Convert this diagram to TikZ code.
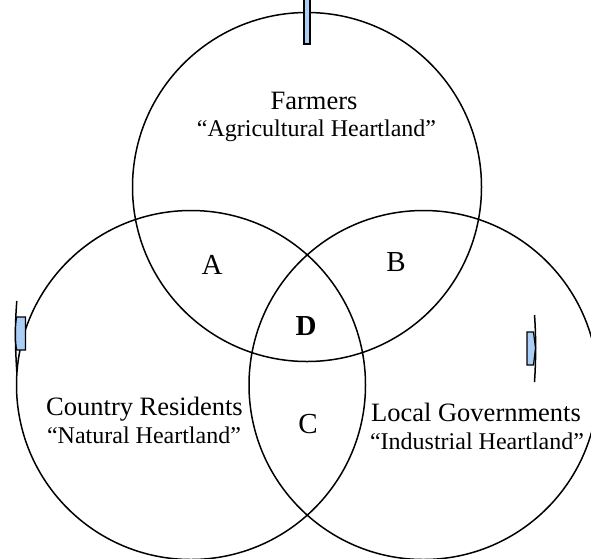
\documentclass[tikz,border=0pt]{standalone}
\usepackage{fontspec}
\setmainfont{Liberation Serif}
\definecolor{markblue}{RGB}{170,206,245}
\begin{document}
\begin{tikzpicture}[x=1pt,y=-1pt,
  ring/.style={circle,draw=black,line width=1.5pt,minimum size=349pt,inner sep=0pt,outer sep=0pt},
  namefont/.style={font=\fontsize{26.5}{30}\selectfont,anchor=base,inner sep=0pt},
  subfont/.style={font=\fontsize{24}{28}\selectfont,anchor=base,inner sep=0pt},
  letterfont/.style={font=\fontsize{29}{32}\selectfont,anchor=base,inner sep=0pt},
  marker/.style={draw=black,fill=markblue,line width=1.2pt},
  tick/.style={draw=black,line width=1.5pt}]
\useasboundingbox (0,0) rectangle (591,558);
% circles
\node[ring] (topc) at (307,187) {};
\node[ring] (leftc) at (191,385) {};
\node[ring] (rightc) at (423.5,385) {};
% markers
\draw[marker] (304,-2) rectangle (310,44);
\draw[tick] (16.8,301) .. controls (14.5,330) and (15.5,350) .. (16.8,372);
\draw[marker] (16.6,317) -- (25.5,317) -- (25.5,350) -- (16.6,350) .. controls (15,340) and (15,327) .. cycle;
\draw[tick] (534.5,315) .. controls (536,335) and (536,360) .. (534.5,382);
\draw[marker] (527,332) -- (533.5,332) -- (535.5,348) -- (533.5,365) -- (527,365) -- cycle;
% labels
\node[namefont] (farm) at (314,109) {Farmers};
\node[subfont] (agri) at (316.5,136) {“Agricultural Heartland”};
\node[namefont] (country) at (144.5,415.5) {Country Residents};
\node[subfont] (natural) at (144,443.5) {“Natural Heartland”};
\node[namefont] (local) at (476,421) {Local Governments};
\node[subfont] (indus) at (477,449) {“Industrial Heartland”};
\node[letterfont] (la) at (212,274.5) {A};
\node[letterfont] (lb) at (396,271) {B};
\node[letterfont] (ld) at (306,335.5) {\bfseries D};
\node[letterfont] (lc) at (308,433.5) {C};
\end{tikzpicture}
\end{document}
